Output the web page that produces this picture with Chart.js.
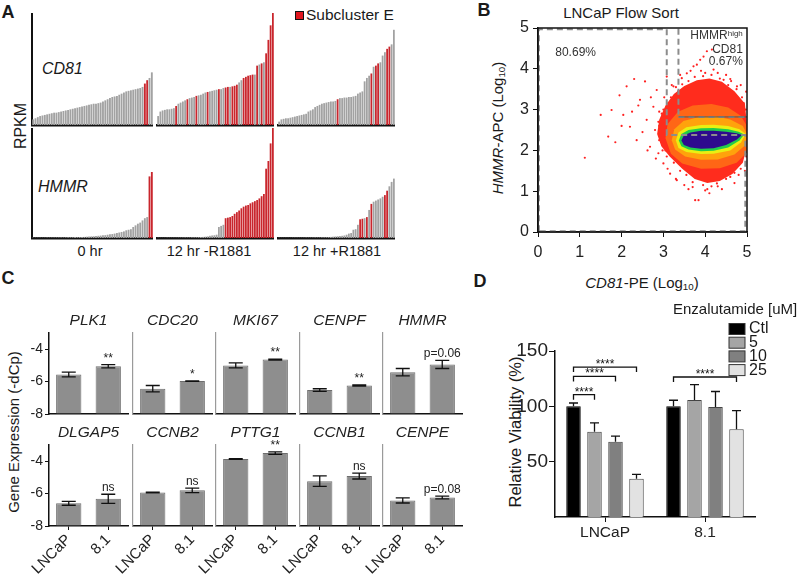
<!DOCTYPE html>
<html>
<head>
<meta charset="utf-8">
<script src="https://cdn.jsdelivr.net/npm/chart.js@4.4.1/dist/chart.umd.min.js"></script>
<style>
  body { margin: 0; width: 800px; height: 575px; overflow: hidden; position: relative; background: #fff;
         font-family: "Liberation Sans", Arial, sans-serif; color: #1a1a1a; }
  .t { position: absolute; white-space: nowrap; line-height: 1; }
  .ctr { transform: translate(-50%, -50%); }
  .lft { transform: translate(0, -50%); }
  .rot { transform: translate(-50%, -50%) rotate(-90deg); }
  .big { font-weight: bold; font-size: 18px; }
  sub { font-size: 65%; vertical-align: -0.3em; line-height: 0; }
</style>
</head>
<body>
<!-- panel letters and loose labels -->
<div class="t ctr big" style="left:8px;top:12px">A</div>
<div class="t ctr big" style="left:484px;top:10px">B</div>
<div class="t ctr big" style="left:8px;top:278px">C</div>
<div class="t ctr big" style="left:480px;top:281px">D</div>

<div class="t" style="left:295px;top:11px;width:7px;height:7px;background:#e0161e;border:1px solid #111"></div>
<div class="t lft" style="left:306px;top:15px;font-size:15.5px">Subcluster E</div>
<div class="t lft" style="left:42px;top:69px;font-size:16px;font-style:italic">CD81</div>
<div class="t lft" style="left:38px;top:187px;font-size:16px;font-style:italic">HMMR</div>
<div class="t rot" style="left:21px;top:126px;font-size:16px">RPKM</div>
<div class="t ctr" style="left:90px;top:251px;font-size:14.5px">0 hr</div>
<div class="t ctr" style="left:209px;top:251px;font-size:14.5px">12 hr -R1881</div>
<div class="t ctr" style="left:337px;top:251px;font-size:14.5px">12 hr +R1881</div>

<div class="t ctr" style="left:621px;top:12px;font-size:15px">LNCaP Flow Sort</div>
<div class="t rot" style="left:497px;top:128px;font-size:15px"><i>HMMR</i>-APC (Log<sub>10</sub>)</div>
<div class="t ctr" style="left:642px;top:282px;font-size:15px"><i>CD81</i>-PE (Log<sub>10</sub>)</div>

<div class="t rot" style="left:13px;top:432px;font-size:15px">Gene Expression (-dCp)</div>
<div class="t rot" style="left:515px;top:432px;font-size:16.5px">Relative Viability (%)</div>

<script>
const $ = (id) => document.getElementById(id);
const FONT = '"Liberation Sans", Arial, sans-serif';

Chart.defaults.font.family = FONT;
Chart.defaults.color = "#1a1a1a";
Chart.defaults.animation = false;
Chart.defaults.responsive = false;
Chart.defaults.devicePixelRatio = 1;
Chart.defaults.plugins.legend.display = false;
Chart.defaults.plugins.tooltip.enabled = false;

// ---------- A: single-cell RPKM, sorted per group (0-100 relative scale)
const rpkmGroups = ["0 hr", "12 hr -R1881", "12 hr +R1881"];
const cd81_0h = [5,6,7,8,8.5,9,9.5,10,10.5,11,11,11.5,12,12.5,13,13.5,14,14.5,15,15.5,16,16.5,17,17.5,18,18.5,19,19,19.5,20,21,22,23,24,25,25.5,26,27,28,29,30,30.5,31,31.5,32,32.5,33,34,37,40,42,47];
const cd81_0h_red = [48,49];
const cd81_12m = [8,12,13,13.5,14,14,14.5,15,17,19,20,21,22,23,24,24.5,25,26,26.5,27,28,29,29.5,30,30.5,31,31.5,32,32,33,33.5,34,34,34.5,35,36,38,40,42,43,44,44.5,45,45,53,54,55,56,64,76,89,100];
const cd81_12m_red = [8,13,17,22,27,30,31,33,34,35,38,39,40,41,42,44,46,48,49,50,51];
const cd81_12p = [3,5,5.5,6,6,6.5,7,7.5,8,8.5,9,9.5,10,12,13,14,16,17,18,19,19.5,20,20.5,21,21,21.5,23,24,24,24.5,24.5,25,25,25.5,26,28,29,30,39,42,44,46,52,53,55,56,62,65,68,70,72,85];
const cd81_12p_red = [26,41,43,44,48,49];
const hmmr_0h = [0.3,0.3,0.3,0.3,0.3,0.3,0.4,0.4,0.4,0.4,0.5,0.5,0.5,0.5,0.6,0.6,0.7,0.7,0.8,0.8,0.9,1,1,1.2,1.3,1.5,1.6,1.8,2,2.2,2.4,2.6,3,3.3,3.6,4,4.5,5,5.5,6,7,7.5,8,10,11.5,13,14,16,18,19,56,60];
const hmmr_0h_red = [50,51];
const hmmr_12m = [0.2,0.2,0.2,0.2,0.3,0.3,0.3,0.3,0.3,0.4,0.4,0.4,0.5,0.5,0.5,0.6,0.6,0.7,0.8,0.9,1,1.2,1.5,2,2.3,2.5,3,10,11,12,18,18.5,19,20,22,23.5,25,27,28.5,29.5,30,31.5,32.5,33.5,34.5,36,38,40,63,70,86,100];
const hmmr_12m_red = [30,31,32,33,34,35,36,37,38,39,40,41,42,43,44,45,46,47,48,49,50,51];
const hmmr_12p = [0.2,0.2,0.2,0.2,0.2,0.2,0.3,0.3,0.3,0.3,0.3,0.3,0.4,0.4,0.4,0.4,0.5,0.5,0.5,0.6,0.6,0.7,0.8,1,1.2,1.4,1.6,1.8,2,2.3,3,4,4.5,7.5,8,12,17,17.5,18,19,25.5,31,33,34,35,36,37.5,39,43,47,51,54];
const hmmr_12p_red = [36,37,39,41,47,48];

// ---------- B: flow sort (log10 units)
const flowSparse = [[1.12,1.82],[1.5,2.87],[1.68,2.34],[1.76,2.99],[1.95,3.35],[2.04,2.87],[2.12,3.57],[2.2,2.58],[2.25,2.95],[2.36,2.25],[2.4,3.1],[2.44,3.24],[2.5,2.45],[2.56,3.69],[2.6,2.75],[2.62,2.0],[2.68,2.09],[2.7,3.3],[2.76,3.07],[2.8,2.5],[2.82,1.8],[2.84,3.48],[2.88,1.93],[2.9,2.95],[2.96,2.9],[3.0,1.68],[3.02,3.3],[3.08,3.81],[3.1,1.55],[3.16,1.43],[3.2,3.6],[3.24,3.57],[3.3,1.3],[3.32,1.27],[3.4,3.85],[3.44,3.77],[3.5,1.15],[3.56,3.89],[3.6,1.05],[3.65,3.95],[3.72,4.06],[3.8,4.1],[3.84,0.78],[3.76,0.78],[3.88,4.22],[3.9,3.95],[3.96,4.3],[4.0,1.02],[4.04,4.43],[4.1,0.95],[4.16,4.47],[4.2,3.98],[4.28,1.19],[4.3,3.9],[4.4,1.05],[4.44,3.73],[4.5,3.85],[4.6,1.35],[4.62,3.7],[4.7,1.2],[4.76,3.57],[4.8,1.4],[4.85,3.6],[4.92,3.16],[4.95,1.5],[4.98,3.44],[2.3,3.75],[2.0,2.6],[1.85,2.2],[2.95,2.2],[2.9,2.6],[3.05,2.0],[3.0,3.0],
  [2.92,2.45],[2.88,2.7],[2.98,2.85],[3.1,3.15],[3.18,3.3],[3.35,3.45],[3.45,3.62],[3.6,3.7],[3.75,3.8],[3.95,3.82],[4.15,3.85],[4.35,3.76],[4.55,3.6],[4.75,3.5],[4.88,3.3],[4.97,3.0],[4.98,1.85],[4.85,1.55],[4.7,1.45],[4.5,1.3],[4.3,1.12],[4.15,1.12],[3.95,1.15],[3.7,1.22],[3.55,1.4],[3.4,1.5],[3.25,1.7],[3.08,1.85],[2.98,2.0],[2.9,2.25],[3.7,1.1],[4.05,1.05],[3.3,3.55],[4.0,3.9],[4.6,3.75]];
const flowRed = [[2.85,2.4],[2.9,2.75],[3.05,3.1],[3.25,3.38],[3.5,3.58],[3.8,3.72],[4.1,3.76],[4.4,3.68],[4.7,3.45],[4.95,3.15],[5,2.6],[5,2.1],[4.9,1.7],[4.65,1.42],[4.35,1.25],[4.05,1.2],[3.75,1.3],[3.45,1.55],[3.15,1.85],[2.95,2.1]];
const flowOrangeRed = [[3.05,2.3],[3.1,2.65],[3.35,2.95],[3.7,3.1],[4.15,3.14],[4.55,3.05],[4.85,2.85],[5,2.6],[5,1.95],[4.75,1.7],[4.35,1.56],[3.9,1.55],[3.45,1.68],[3.18,1.92]];
const flowOrange = [[3.2,2.25],[3.26,2.52],[3.48,2.72],[3.85,2.82],[4.25,2.84],[4.6,2.76],[4.9,2.6],[5,2.4],[4.95,2.12],[4.7,1.9],[4.3,1.78],[3.9,1.77],[3.52,1.85],[3.28,2.02]];
const flowYellow = [[3.3,2.24],[3.36,2.44],[3.55,2.57],[3.9,2.62],[4.2,2.63],[4.55,2.6],[4.82,2.52],[4.97,2.4],[4.86,2.2],[4.6,2.0],[4.2,1.92],[3.9,1.91],[3.55,1.96],[3.36,2.06]];
const flowGreen = [[3.37,2.24],[3.43,2.4],[3.6,2.5],[3.9,2.54],[4.2,2.55],[4.55,2.52],[4.8,2.46],[4.93,2.39],[4.82,2.24],[4.55,2.07],[4.2,1.99],[3.9,1.98],[3.6,2.02],[3.43,2.1]];
const flowCore = [[3.43,2.24],[3.49,2.37],[3.65,2.44],[3.9,2.48],[4.2,2.48],[4.5,2.46],[4.75,2.42],[4.88,2.38],[4.76,2.27],[4.5,2.13],[4.2,2.05],[3.9,2.04],[3.65,2.07],[3.49,2.13]];
const gateMain = [[0.02,0.02],[0.02,4.97],[3.08,4.97],[3.08,2.38],[4.96,2.38],[4.96,0.02],[0.02,0.02]];
const gateHighV = [[3.36,4.98],[3.36,2.82]];
const gateHighH = [[3.36,2.82],[5,2.82]];
const gateMainPct = "80.69%";
const gateHighPct = "0.67%";

// ---------- C: qPCR (-dCp)
const qpcrGenes = ["PLK1","CDC20","MKI67","CENPF","HMMR","DLGAP5","CCNB2","PTTG1","CCNB1","CENPE"];
const qpcrCells = ["LNCaP","8.1"];
const qpcrLNCaP    = [-5.56,-6.44,-5.0,-6.52,-5.42,-6.6,-5.93,-3.86,-5.23,-6.42];
const qpcrLNCaPSem = [0.15,0.2,0.15,0.08,0.23,0.12,0.02,0.02,0.33,0.16];
const qpcr81       = [-5.05,-5.97,-4.64,-6.24,-4.94,-6.32,-5.8,-3.5,-4.92,-6.24];
const qpcr81Sem    = [0.1,0.02,0.03,0.04,0.25,0.28,0.14,0.08,0.18,0.08];
const qpcrSig      = ["**","*","**","**","p=0.06","ns","ns","**","ns","p=0.08"];
const qpcrTicks = [-8, -6, -4];

// ---------- D: viability
const viabCells = ["LNCaP", "8.1"];
const enzaDoses = ["Ctl", "5", "10", "25"];
const viabLNCaP    = [100, 77, 68, 34.5];
const viabLNCaPErr = [3, 8, 5, 4];
const viab81       = [100, 105.7, 99.4, 79.2];
const viab81Err    = [5.5, 14, 14, 17];
const viabBrackets = [[0,0,1,110.5],[0,0,2,127],[0,0,3,135.5],[1,0,3,126.5]]; // cell, dose a, dose b, level
const viabTicks = [50, 100, 150];

// ---------- helpers
function addCanvas(left, top, w, h){
  const c = document.createElement("canvas");
  c.width = w; c.height = h;
  c.style.cssText = `position:absolute;left:${left}px;top:${top}px;width:${w}px;height:${h}px`;
  document.body.appendChild(c);
  return c;
}
const pts = (arr) => arr.map(([x, y]) => ({ x, y }));
function noPad(s){ s.paddingLeft = 0; s.paddingRight = 0; s.paddingTop = 0; s.paddingBottom = 0; }

// ================= A =================
const RED = "#c9262d", GREY = "#a2a2a2";
function rpkmChart(canvas, vals, reds, withAxis){
  new Chart(canvas, {
    type: "bar",
    data: {
      labels: vals.map((_, i) => i + 1),
      datasets: [{
        data: vals,
        backgroundColor: vals.map((_, i) => reds.includes(i) ? RED : GREY),
        barPercentage: 0.8, categoryPercentage: 1
      }]
    },
    options: {
      layout: { padding: 0 },
      scales: {
        x: { ticks: { display: false }, grid: { display: false }, border: { color: "#111", width: 2.5 },
             afterFit: s => { s.height = 2; noPad(s); } },
        y: { min: 0, max: 100, display: withAxis, ticks: { display: false }, grid: { display: false },
             border: { color: "#111", width: 2 }, afterFit: s => { s.width = 2; noPad(s); } }
      }
    }
  });
}
const aLeft = [30, 155, 276], aWidth = [123, 119, 119];
const cd81Sets = [[cd81_0h, cd81_0h_red], [cd81_12m, cd81_12m_red], [cd81_12p, cd81_12p_red]];
const hmmrSets = [[hmmr_0h, hmmr_0h_red], [hmmr_12m, hmmr_12m_red], [hmmr_12p, hmmr_12p_red]];
rpkmGroups.forEach((g, i) => {
  rpkmChart(addCanvas(aLeft[i], 13, aWidth[i], 114), cd81Sets[i][0], cd81Sets[i][1], i === 0);
  rpkmChart(addCanvas(aLeft[i], 128, aWidth[i], 112), hmmrSets[i][0], hmmrSets[i][1], i === 0);
});

// ================= B =================
const shape = (data, color) => ({ data: pts(data), showLine: true, fill: "shape", backgroundColor: color,
                                  borderWidth: 0, pointRadius: 0 });
const gate = (data, color, dash, w) => ({ data: pts(data), showLine: true, fill: false, borderColor: color,
                                          borderWidth: w, borderDash: dash, pointRadius: 0 });
const flowNotes = {
  id: "flowNotes",
  afterDraw(chart){
    const { ctx, chartArea: a, scales: { x, y } } = chart;
    ctx.save();
    ctx.strokeStyle = "#111"; ctx.lineWidth = 1.5;
    ctx.strokeRect(a.left, a.top, a.right - a.left, a.bottom - a.top);
    ctx.fillStyle = "#333"; ctx.textBaseline = "middle";
    ctx.font = `12px ${FONT}`;
    ctx.textAlign = "center";
    ctx.fillText(gateMainPct, x.getPixelForValue(0.9), y.getPixelForValue(4.39));
    const rx = x.getPixelForValue(4.9);
    ctx.textAlign = "right";
    ctx.fillText("CD81", rx, y.getPixelForValue(4.47));
    ctx.fillText(gateHighPct, rx, y.getPixelForValue(4.18));
    ctx.font = `8px ${FONT}`;
    const hw = ctx.measureText("high").width;
    ctx.fillText("high", rx, y.getPixelForValue(4.86));
    ctx.font = `12px ${FONT}`;
    ctx.fillText("HMMR", rx - hw, y.getPixelForValue(4.8));
    ctx.restore();
  }
};
new Chart(addCanvas(478, 0, 292, 275), {
  type: "scatter",
  data: {
    datasets: [
      gate(gateHighV, "#8c8c8c", [6, 4], 2),
      gate(gateHighH, "#555", [], 1),
      gate(gateHighH, "#9a9a9a", [6, 4], 2),
      gate(gateMain, "#8c8c8c", [6, 4], 2),
      shape(flowCore, "#2e0a8e"),
      shape(flowGreen, "#22cc4a"),
      shape(flowYellow, "#eaef12"),
      shape(flowOrange, "#ffa20c"),
      shape(flowOrangeRed, "#ff6616"),
      shape(flowRed, "#ff2c1d"),
      { data: pts(flowSparse), pointRadius: 1.1, pointBorderWidth: 0, backgroundColor: "#ff2020" }
    ]
  },
  options: {
    layout: { padding: { top: 28, right: 23, left: 0, bottom: 0 } },
    scales: {
      x: { type: "linear", min: 0, max: 5, ticks: { stepSize: 1, font: { size: 16 }, padding: 6, color: "#222" },
           grid: { drawOnChartArea: false, tickLength: 5, color: "#111" }, border: { color: "#111", width: 1.5 },
           afterFit: s => { s.height = 43; noPad(s); } },
      y: { min: 0, max: 5, ticks: { stepSize: 1, font: { size: 16 }, padding: 4, color: "#222" },
           grid: { drawOnChartArea: false, tickLength: 5, color: "#111" }, border: { color: "#111", width: 1.5 },
           afterFit: s => { s.width = 60; noPad(s); } }
    }
  },
  plugins: [flowNotes]
});

// ================= C =================
const C_LEFT = [49, 132.5, 216, 299.5, 383], C_TOP = [333, 445], C_H = 81, C_W = 79;
qpcrGenes.forEach((gene, k) => {
  const row = Math.floor(k / 5), col = k % 5;
  const first = col === 0, bottom = row === 1;
  const axisW = 36, padTop = 28, padRight = 12;
  const canvasTop = C_TOP[row] - padTop;
  const canvasH = bottom ? 575 - canvasTop : padTop + C_H + 6;
  const vals = [qpcrLNCaP[k], qpcr81[k]];
  const sems = [qpcrLNCaPSem[k], qpcr81Sem[k]];
  const deco = {
    id: "qpcrDeco",
    afterDatasetsDraw(chart){
      const { ctx, chartArea: a, scales: { y } } = chart;
      const bars = chart.getDatasetMeta(0).data;
      ctx.save();
      ctx.strokeStyle = "#111"; ctx.lineWidth = 1.3;
      bars.forEach((b, i) => {
        const t = y.getPixelForValue(vals[i] + sems[i]);
        const d = y.getPixelForValue(vals[i] - sems[i]);
        ctx.beginPath();
        ctx.moveTo(b.x, t); ctx.lineTo(b.x, d);
        ctx.moveTo(b.x - 7, t); ctx.lineTo(b.x + 7, t);
        ctx.moveTo(b.x - 7, d); ctx.lineTo(b.x + 7, d);
        ctx.stroke();
      });
      ctx.fillStyle = "#222"; ctx.textAlign = "center"; ctx.textBaseline = "alphabetic";
      ctx.font = `12px ${FONT}`;
      ctx.fillText(qpcrSig[k], bars[1].x, y.getPixelForValue(vals[1] + sems[1]) - 3);
      ctx.font = `italic 15.5px ${FONT}`; ctx.textBaseline = "middle";
      ctx.fillText(gene, (a.left + a.right) / 2, a.top - 12);
      ctx.restore();
    }
  };
  new Chart(addCanvas(C_LEFT[col] - axisW, canvasTop, axisW + C_W + padRight, canvasH), {
    type: "bar",
    data: { labels: qpcrCells, datasets: [{ data: vals, base: -8, backgroundColor: "#8e8e8e", borderColor: "#6e6e6e",
            borderWidth: 1, barPercentage: 0.64, categoryPercentage: 1 }] },
    options: {
      layout: { padding: { top: padTop, right: padRight, left: 0, bottom: 0 } },
      scales: {
        x: { grid: { drawOnChartArea: false, offset: false, drawTicks: bottom, tickLength: 4, color: "#111" },
             border: { color: "#111", width: 1.5 },
             ticks: { display: bottom, minRotation: 45, maxRotation: 45, font: { size: 15 }, padding: 1, color: "#222" },
             afterFit: s => { s.height = canvasH - padTop - C_H; noPad(s); } },
        y: { min: -8, max: -3, afterBuildTicks: s => { s.ticks = qpcrTicks.map(v => ({ value: v })); },
             grid: { drawOnChartArea: false, drawTicks: first, tickLength: 4, color: "#111" },
             border: { color: first ? "#111" : "#9a9a9a", width: first ? 1.5 : 1.2 },
             ticks: { display: first, font: { size: 14 }, padding: 2, color: "#222" },
             afterFit: s => { s.width = axisW; noPad(s); } }
      }
    },
    plugins: [deco]
  });
});

// ================= D =================
const doseColors = ["#000000", "#a5a5a5", "#808080", "#e2e2e2"];
const viabDeco = {
  id: "viabDeco",
  afterDatasetsDraw(chart){
    const { ctx, scales: { y } } = chart;
    ctx.save();
    ctx.strokeStyle = "#111"; ctx.lineWidth = 1.3;
    enzaDoses.forEach((d, i) => {
      chart.getDatasetMeta(i).data.forEach((b, j) => {
        const v = [viabLNCaP, viab81][j][i], e = [viabLNCaPErr, viab81Err][j][i];
        const t = y.getPixelForValue(v + e);
        ctx.beginPath();
        ctx.moveTo(b.x, y.getPixelForValue(v)); ctx.lineTo(b.x, t);
        ctx.moveTo(b.x - 4.5, t); ctx.lineTo(b.x + 4.5, t);
        ctx.stroke();
      });
    });
    ctx.font = `12px ${FONT}`; ctx.fillStyle = "#111"; ctx.textAlign = "center"; ctx.textBaseline = "alphabetic";
    viabBrackets.forEach(([cell, da, db, lvl]) => {
      const xa = chart.getDatasetMeta(da).data[cell].x, xb = chart.getDatasetMeta(db).data[cell].x;
      const yy = y.getPixelForValue(lvl);
      ctx.beginPath();
      ctx.moveTo(xa, yy + 5); ctx.lineTo(xa, yy); ctx.lineTo(xb, yy); ctx.lineTo(xb, yy + 5);
      ctx.stroke();
      ctx.fillText("****", (xa + xb) / 2, yy + 1);
    });
    ctx.restore();
  },
  afterDraw(chart){
    const { ctx, chartArea: a } = chart;
    ctx.save();
    ctx.fillStyle = "#1a1a1a"; ctx.textBaseline = "middle"; ctx.textAlign = "left";
    ctx.font = `15px ${FONT}`;
    ctx.fillText("Enzalutamide [uM]", a.right - 82, a.top - 41);
    ctx.font = `16px ${FONT}`;
    enzaDoses.forEach((d, i) => {
      const cy = a.top - 22 + i * 13.7;
      ctx.fillStyle = doseColors[i];
      ctx.fillRect(a.right - 26, cy - 5.5, 16, 11);
      ctx.strokeStyle = "#333"; ctx.lineWidth = 1;
      ctx.strokeRect(a.right - 26, cy - 5.5, 16, 11);
      ctx.fillStyle = "#1a1a1a";
      ctx.fillText(d, a.right - 6, cy);
    });
    ctx.restore();
  }
};
new Chart(addCanvas(495, 295, 305, 280), {
  type: "bar",
  data: {
    labels: viabCells,
    datasets: enzaDoses.map((d, i) => ({
      label: d, data: [viabLNCaP[i], viab81[i]], backgroundColor: doseColors[i],
      borderColor: i === 0 ? "#000" : "#444", borderWidth: 1, categoryPercentage: 0.84, barPercentage: 0.69
    }))
  },
  options: {
    layout: { padding: { top: 56, right: 45, left: 0, bottom: 0 } },
    scales: {
      x: { grid: { drawOnChartArea: false, offset: false, tickLength: 5, color: "#111" }, border: { color: "#111", width: 1.5 },
           ticks: { font: { size: 15.5 }, padding: 1, color: "#222" },
           afterFit: s => { s.height = 58; noPad(s); } },
      y: { min: 0, max: 150, afterBuildTicks: s => { s.ticks = viabTicks.map(v => ({ value: v })); },
           grid: { drawOnChartArea: false, tickLength: 6, color: "#111" }, border: { color: "#111", width: 1.5 },
           ticks: { font: { size: 19 }, padding: 1, color: "#222" },
           afterFit: s => { s.width = 60; noPad(s); } }
    }
  },
  plugins: [viabDeco]
});
</script>
</body>
</html>
